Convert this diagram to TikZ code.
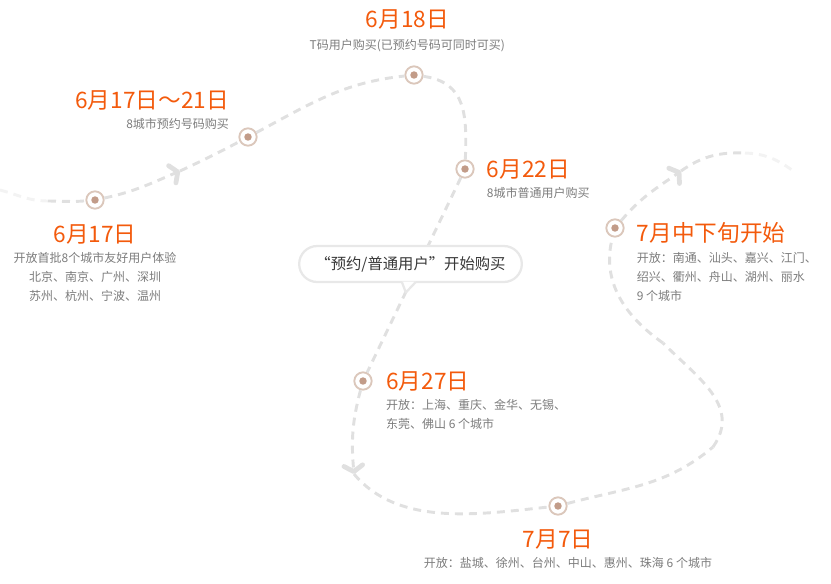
\documentclass[tikz,border=0pt]{standalone}
\usepackage{fontspec}
\setmainfont{Noto Sans CJK SC}
\newfontfamily\quotefont[RawFeature=+fwid]{Noto Sans CJK SC}
\usetikzlibrary{positioning,arrows.meta}

\definecolor{datecol}{HTML}{F35A0C}
\definecolor{notecol}{HTML}{7C7C7C}
\definecolor{routecol}{HTML}{E0E0E0}
\definecolor{ringcol}{HTML}{DBC7BB}
\definecolor{pincol}{HTML}{C29C89}
\definecolor{bubcol}{HTML}{E8E8E8}

\tikzset{
  milestone/.style={circle, draw=ringcol, line width=1.4pt, fill=white,
    minimum size=13pt, inner sep=0pt,
    path picture={\fill[pincol] (path picture bounding box.center) circle (2.8pt);}},
  date/.style={text=datecol, font=\fontsize{17}{18}\selectfont, inner sep=0pt},
  note/.style={text=notecol, font=\fontsize{9}{14.25}\selectfont, inner sep=0pt},
  route/.style={draw=routecol, line width=2.2pt, dash pattern=on 6pt off 4.5pt},
  routefade/.style={route, draw=routecol!40},
  plane/.style={-{Straight Barb[length=4.5pt,width=14pt,line width=3.6pt,round]}},
  bubble/.style={draw=bubcol, line width=1.7pt, fill=white, rounded corners=13.5pt,
    minimum width=167pt, minimum height=27pt, inner sep=0pt, text=black!78,
    font=\fontsize{11.5}{13}\selectfont},
  tail/.style={draw=bubcol, line width=1.7pt, line join=round}
}

\begin{document}
\begin{tikzpicture}[x=0.75pt, y=-0.75pt]
  \useasboundingbox (0,0) rectangle (831,583);

  % stops along the route
  \node[milestone] (a) at (95,200) {};
  \node[milestone] (b) at (248,137) {};
  \node[milestone] (c) at (414,75) {};
  \node[milestone] (d) at (465,169) {};
  \node[milestone] (e) at (615,228) {};
  \node[milestone] (f) at (363,381) {};
  \node[milestone] (g) at (558,506) {};

  \coordinate (start) at (0,190);
  \coordinate (s1) at (48,201);
  \coordinate (arr1) at (180,171);
  \coordinate (arr2) at (354,474);
  \coordinate (r1) at (713,447);
  \coordinate (r2) at (663,343);
  \coordinate (arr3) at (681,171);
  \coordinate (f1) at (745,153);
  \coordinate (end) at (792,170);

  % the route
  \draw[routefade] (start) to[out=-15,in=180] (s1);
  \draw[route] (s1) to[out=0,in=185] (a);
  \draw[route, plane] (a) to[out=12,in=203] (arr1);
  \draw[route] (arr1) to[out=25,in=208] (b);
  \draw[route] (b) to[out=28,in=186] (c);
  \draw[route] (c) to[out=-8,in=88,looseness=1.2] (d);
  \draw[route] (d) -- (f);
  \draw[route, plane] (f) to[out=255,in=95] (arr2);
  \draw[route] (arr2) to[out=-50,in=186,looseness=0.9] (g);
  \draw[route] (g) to[out=15,in=-140] (r1);
  \draw[route] (r1) to[out=55,in=-45,looseness=1.1] (r2);
  \draw[route] (r2) to[out=145,in=-105] (e);
  \draw[route, plane] (e) to[out=50,in=215] (arr3);
  \draw[route] (arr3) to[out=35,in=178] (f1);
  \draw[routefade] (f1) to[out=-2,in=145] (end);

  % speech bubble
  \node[bubble] (bubble) at (410.5,264)
    {{\quotefont “}预约/普通用户{\quotefont ”}开始购买};
  \fill[white] ([xshift=-6.5pt,yshift=1.2pt]bubble.south)
    -- ([xshift=-3.5pt,yshift=-7pt]bubble.south)
    -- ([xshift=4pt,yshift=1.2pt]bubble.south) -- cycle;
  \draw[tail] ([xshift=-6.5pt,yshift=0.9pt]bubble.south)
    -- ([xshift=-3.5pt,yshift=-7pt]bubble.south)
    -- ([xshift=4pt,yshift=0.9pt]bubble.south);

  % labels
  \node[date, below=11pt of a] (a date) {6月17日};
  \node[note, below=6pt of a date, align=center] (a note)
    {开放首批8个城市友好用户体验\\北京、南京、广州、深圳\\苏州、杭州、宁波、温州};

  \node[note, above left=0pt and 9pt of b] (b note) {8城市预约号码购买};
  \node[date, above=6pt of b note.north east, anchor=south east] (b date) {6月17日～21日};

  \node[note, above=10pt of c, xshift=-5pt] (c note) {T码用户购买(已预约号码可同时可买)};
  \node[date, above=7pt of c note] (c date) {6月18日};

  \node[date, right=9pt of d] (d date) {6月22日};
  \node[note, below=6pt of d date.south west, anchor=north west] (d note) {8城市普通用户购买};

  \node[date, right=9pt of e, yshift=-4pt] (e date) {7月中下旬开始};
  \node[note, below=6pt of e date.south west, anchor=north west, align=left] (e note)
    {开放：南通、汕头、嘉兴、江门、\\绍兴、衢州、舟山、湖州、丽水\\9 个城市};

  \node[date, right=10pt of f] (f date) {6月27日};
  \node[note, below=6pt of f date.south west, anchor=north west, align=left] (f note)
    {开放：上海、重庆、金华、无锡、\\东莞、佛山 6 个城市};

  \node[date, below=10pt of g] (g date) {7月7日};
  \node[note, below=6pt of g date, xshift=7.5pt] (g note)
    {开放：盐城、徐州、台州、中山、惠州、珠海 6 个城市};
\end{tikzpicture}
\end{document}
